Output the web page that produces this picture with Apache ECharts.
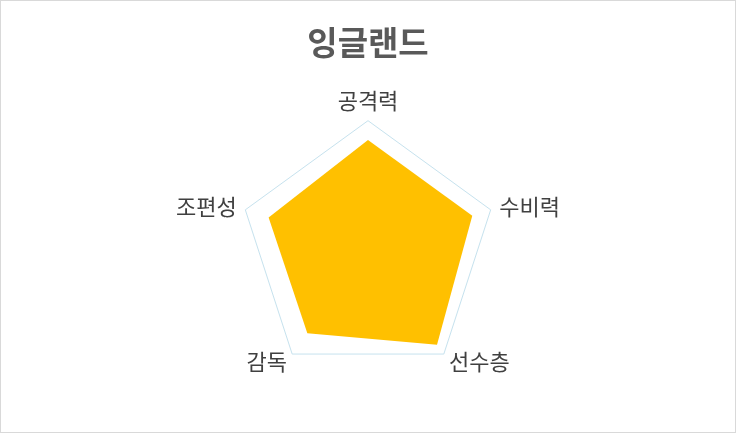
<!DOCTYPE html>
<html><head><meta charset="utf-8">
<script src="https://cdn.jsdelivr.net/npm/echarts@6/dist/echarts.min.js"></script>
<style>html,body{margin:0;padding:0;background:#fff}#c{width:736px;height:433px;box-sizing:border-box;border:1px solid #d9d9d9}</style>
</head><body><div id="c"></div>
<script>
const title = '잉글랜드';
// listed counter-clockwise from the top, as ECharts places them
const indicators = ['공격력', '조편성', '감독', '선수층', '수비력'];
const maxValue = 100;
const values = [85, 81, 80, 91, 85];

const chart = echarts.init(document.getElementById('c'));
chart.setOption({
  animation: false,
  backgroundColor: '#fff',
  title: {
    text: title, left: 'center', top: 20,
    textStyle: { fontFamily: 'Noto Sans CJK KR', fontSize: 33, fontWeight: 'bold', color: '#595959' }
  },
  radar: {
    center: ['50%', '57.7%'],
    radius: 129,
    startAngle: 90,
    splitNumber: 1,
    shape: 'polygon',
    axisName: { color: '#404040', fontSize: 22, fontFamily: 'Noto Sans CJK KR' },
    nameGap: 9,
    axisLine: { show: false },
    axisTick: { show: false },
    splitArea: { show: false },
    splitLine: { lineStyle: { color: '#c6e2ee', width: 1 } },
    indicator: indicators.map(n => ({ name: n, max: maxValue, min: 0 }))
  },
  series: [{
    type: 'radar',
    symbol: 'none',
    lineStyle: { width: 0 },
    areaStyle: { color: '#FFC000', opacity: 1 },
    itemStyle: { color: '#FFC000' },
    data: [{ value: values, name: title }]
  }]
});
</script></body></html>
